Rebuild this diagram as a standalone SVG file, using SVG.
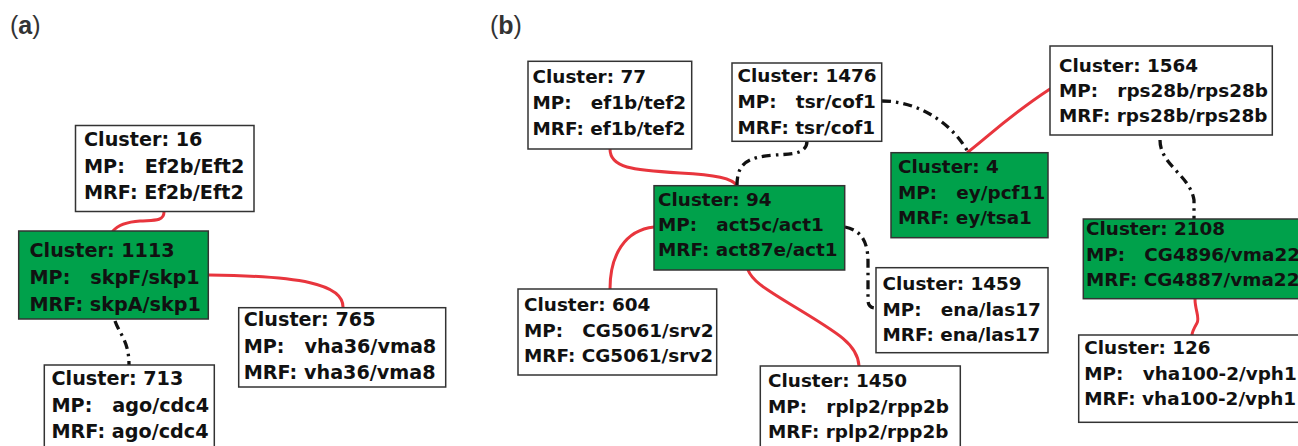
<svg xmlns="http://www.w3.org/2000/svg" width="1298" height="446" viewBox="0 0 1298 446" xml:space="preserve">
<style>
  .box { fill: #ffffff; stroke: #333333; stroke-width: 1.5; }
  .hub { fill: #00a14b; stroke: #333333; stroke-width: 1.5; }
  .t { font-family: "DejaVu Sans", sans-serif; font-weight: bold; fill: #111111; white-space: pre; }
  .ta { font-size: 19.2px; }
  .tb { font-size: 18.4px; }
  .red { fill: none; stroke: #e8353d; stroke-width: 3; stroke-linecap: round; }
  .dd { fill: none; stroke: #111111; stroke-width: 3.3; stroke-dasharray: 9 5 2.5 5; }
  .lab { font-family: "Liberation Sans", Arial, sans-serif; font-size: 25px; fill: #333333; }
</style>

<text class="lab" x="10" y="34">(<tspan font-weight="bold">a</tspan>)</text>
<text class="lab" x="490" y="34">(<tspan font-weight="bold">b</tspan>)</text>

<g id="connectors">
  <!-- panel a -->
  <path class="red" d="M164,212 C164,222 152,220 140,221 C126,222 118,225 113,231"/>
  <path class="red" d="M209,275 C300,276 343,284 343,307"/>
  <path class="dd" d="M115,321 C120,335 129,341 129,365"/>
  <!-- panel b -->
  <path class="red" d="M610,149 C610,168 632,170 680,173 C715,175 733,178 737,186"/>
  <path class="dd" d="M807,141 C807,153 795,154 775,155 C745,157 737,165 737,186"/>
  <path class="red" d="M654,227 C625,230 610,255 610,289"/>
  <path class="red" d="M748,270 C752,280 762,287 790,304 C840,334 858,345 859,366"/>
  <path class="dd" d="M845,227 C860,230 868,240 868,262 L868,300 C868,306 871,308 876,308"/>
  <path class="dd" d="M882,101 C915,101 950,120 968,152"/>
  <path class="red" d="M1050,89 C1010,115 990,135 968,152"/>
  <path class="dd" d="M1160,140 C1160,165 1190,175 1194,200 L1194,219"/>
  <path class="red" d="M1195,299 C1195,310 1200,318 1197,323 C1193,330 1192,332 1192,335"/>
</g>

<g id="n16">
  <rect class="box" x="75.5" y="125.5" width="178.5" height="86"/>
  <text class="t ta" x="84" y="146">Cluster: 16</text>
  <text class="t ta" x="84" y="172.7">MP:   Ef2b/Eft2</text>
  <text class="t ta" x="84" y="199.3">MRF: Ef2b/Eft2</text>
</g>
<g id="n1113">
  <rect class="hub" x="18.7" y="231" width="189.6" height="88"/>
  <text class="t ta" x="29.5" y="257.3">Cluster: 1113</text>
  <text class="t ta" x="29.5" y="284">MP:   skpF/skp1</text>
  <text class="t ta" x="29.5" y="310.7">MRF: skpA/skp1</text>
</g>
<g id="n765">
  <rect class="box" x="238.7" y="307.7" width="207" height="79.3"/>
  <text class="t ta" x="243.7" y="326">Cluster: 765</text>
  <text class="t ta" x="243.7" y="352.7">MP:   vha36/vma8</text>
  <text class="t ta" x="243.7" y="379.3">MRF: vha36/vma8</text>
</g>
<g id="n713">
  <rect class="box" x="44.3" y="365" width="170" height="82"/>
  <text class="t ta" x="51.5" y="385">Cluster: 713</text>
  <text class="t ta" x="51.5" y="411.7">MP:   ago/cdc4</text>
  <text class="t ta" x="51.5" y="438.3">MRF: ago/cdc4</text>
</g>

<g id="n77">
  <rect class="box" x="528" y="61.3" width="163.7" height="87.7"/>
  <text class="t tb" x="532.5" y="83.3">Cluster: 77</text>
  <text class="t tb" x="532.5" y="109.3">MP:   ef1b/tef2</text>
  <text class="t tb" x="532.5" y="135">MRF: ef1b/tef2</text>
</g>
<g id="n1476">
  <rect class="box" x="732" y="63" width="149.7" height="78.3"/>
  <text class="t tb" x="737.5" y="82.3">Cluster: 1476</text>
  <text class="t tb" x="737.5" y="108.3">MP:   tsr/cof1</text>
  <text class="t tb" x="737.5" y="133.7">MRF: tsr/cof1</text>
</g>
<g id="n94">
  <rect class="hub" x="654" y="185.7" width="190.7" height="84.3"/>
  <text class="t tb" x="658" y="205.7">Cluster: 94</text>
  <text class="t tb" x="658" y="231">MP:   act5c/act1</text>
  <text class="t tb" x="658" y="256">MRF: act87e/act1</text>
</g>
<g id="n604">
  <rect class="box" x="518" y="289" width="198.7" height="86"/>
  <text class="t tb" x="524" y="311">Cluster: 604</text>
  <text class="t tb" x="524" y="336.7">MP:   CG5061/srv2</text>
  <text class="t tb" x="524" y="362">MRF: CG5061/srv2</text>
</g>
<g id="n1450">
  <rect class="box" x="760.3" y="366" width="200" height="84"/>
  <text class="t tb" x="768" y="386.7">Cluster: 1450</text>
  <text class="t tb" x="768" y="412.7">MP:   rplp2/rpp2b</text>
  <text class="t tb" x="768" y="438">MRF: rplp2/rpp2b</text>
</g>
<g id="n1459">
  <rect class="box" x="876" y="267.7" width="172" height="85"/>
  <text class="t tb" x="882.5" y="290">Cluster: 1459</text>
  <text class="t tb" x="882.5" y="316">MP:   ena/las17</text>
  <text class="t tb" x="882.5" y="341.3">MRF: ena/las17</text>
</g>
<g id="n4">
  <rect class="hub" x="891" y="152.7" width="157" height="85"/>
  <text class="t tb" x="898" y="173.3">Cluster: 4</text>
  <text class="t tb" x="898" y="199">MP:   ey/pcf11</text>
  <text class="t tb" x="898" y="224.3">MRF: ey/tsa1</text>
</g>
<g id="n1564">
  <rect class="box" x="1050" y="46" width="222.3" height="89"/>
  <text class="t tb" x="1059" y="71.7">Cluster: 1564</text>
  <text class="t tb" x="1059" y="96.7">MP:   rps28b/rps28b</text>
  <text class="t tb" x="1059" y="122">MRF: rps28b/rps28b</text>
</g>
<g id="n2108">
  <rect class="hub" x="1083.3" y="219" width="240" height="79.7"/>
  <text class="t tb" x="1086" y="235">Cluster: 2108</text>
  <text class="t tb" x="1086" y="260.7">MP:   CG4896/vma22</text>
  <text class="t tb" x="1086" y="286">MRF: CG4887/vma22</text>
</g>
<g id="n126">
  <rect class="box" x="1078.7" y="335" width="240" height="87.3"/>
  <text class="t tb" x="1084.3" y="354">Cluster: 126</text>
  <text class="t tb" x="1084.3" y="379.7">MP:   vha100-2/vph1</text>
  <text class="t tb" x="1084.3" y="404.7">MRF: vha100-2/vph1</text>
</g>
</svg>
